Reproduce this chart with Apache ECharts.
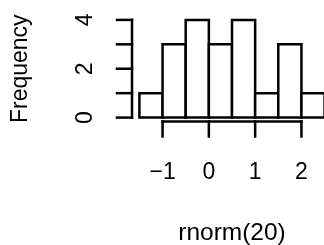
<!DOCTYPE html>
<html><head><meta charset="utf-8">
<script src="https://cdn.jsdelivr.net/npm/echarts@6/dist/echarts.min.js"></script>
<style>html,body{margin:0;padding:0;background:#fff;overflow:hidden}#c{width:324px;height:245px}</style>
</head><body><div id="c"></div>
<script>
// Histogram of rnorm(20)
const binStarts = [-1.5, -1, -0.5, 0, 0.5, 1, 1.5, 2];
const binWidth = 0.5;
const counts = [1, 3, 4, 3, 4, 1, 3, 1];
const xTicks = [-1, 0, 1, 2];
const yTicks = [0, 1, 2, 3, 4];
const yLabels = [0, 2, 4];
const xTitle = 'rnorm(20)';
const yTitle = 'Frequency';

const xMin = -1.66, xMax = 2.66, yMin = -0.16, yMax = 4.16;
const FONT = '"Liberation Sans", Arial, Helvetica, sans-serif';
const FS = 23;
const LW = 2.5;
const TICK = 15;

const bars = binStarts.map((s, i) => [s, s + binWidth, counts[i]]);

const chart = echarts.init(document.getElementById('c'), null, {renderer: 'canvas'});
chart.setOption({
  animation: false,
  backgroundColor: '#ffffff',
  grid: {left: 132, top: 16, width: 200, height: 105.5, containLabel: false, outerBoundsMode: 'none'},
  xAxis: {
    type: 'value', min: xMin, max: xMax,
    splitLine: {show: false},
    axisLine: {show: false},
    axisTick: {show: false},
    axisLabel: {show: true, customValues: xTicks, margin: 40, color: '#000', fontFamily: FONT, fontSize: FS,
      formatter: v => String(v).replace('-', '\u2212')},
    name: xTitle, nameLocation: 'middle', nameGap: 99,
    nameTextStyle: {color: '#000', fontFamily: FONT, fontSize: 24.5}
  },
  yAxis: {
    type: 'value', min: yMin, max: yMax,
    splitLine: {show: false},
    axisLine: {show: false},
    axisTick: {show: false},
    axisLabel: {show: true, customValues: yLabels, rotate: 90, margin: 35, color: '#000', fontFamily: FONT, fontSize: FS},
    name: yTitle, nameLocation: 'middle', nameGap: 100, nameRotate: 90,
    nameTextStyle: {color: '#000', fontFamily: FONT, fontSize: FS}
  },
  series: [
    {
      type: 'custom', clip: false,
      data: bars,
      encode: {x: [0, 1], y: 2},
      renderItem: function (params, api) {
        const p0 = api.coord([api.value(0), 0]);
        const p1 = api.coord([api.value(1), api.value(2)]);
        return {
          type: 'rect',
          shape: {x: p0[0], y: p1[1], width: p1[0] - p0[0], height: p0[1] - p1[1]},
          style: {fill: '#fff', stroke: '#000', lineWidth: LW}
        };
      }
    },
    {
      type: 'custom', clip: false, silent: true,
      data: [[0]],
      renderItem: function (params, api) {
        const st = {stroke: '#000', lineWidth: LW, lineCap: 'square'};
        const ya = api.coord([xMin, yTicks[0]]);
        const yb = api.coord([xMin, yTicks[yTicks.length - 1]]);
        const xa = api.coord([xTicks[0], yMin]);
        const xb = api.coord([xTicks[xTicks.length - 1], yMin]);
        const children = [
          {type: 'line', shape: {x1: ya[0], y1: ya[1], x2: yb[0], y2: yb[1]}, style: st},
          {type: 'line', shape: {x1: xa[0], y1: xa[1], x2: xb[0], y2: xb[1]}, style: st}
        ];
        yTicks.forEach(t => {
          const p = api.coord([xMin, t]);
          children.push({type: 'line', shape: {x1: p[0], y1: p[1], x2: p[0] - TICK, y2: p[1]}, style: st});
        });
        xTicks.forEach(t => {
          const p = api.coord([t, yMin]);
          children.push({type: 'line', shape: {x1: p[0], y1: p[1], x2: p[0], y2: p[1] + TICK}, style: st});
        });
        return {type: 'group', children: children};
      }
    }
  ]
});
</script>
</body></html>
